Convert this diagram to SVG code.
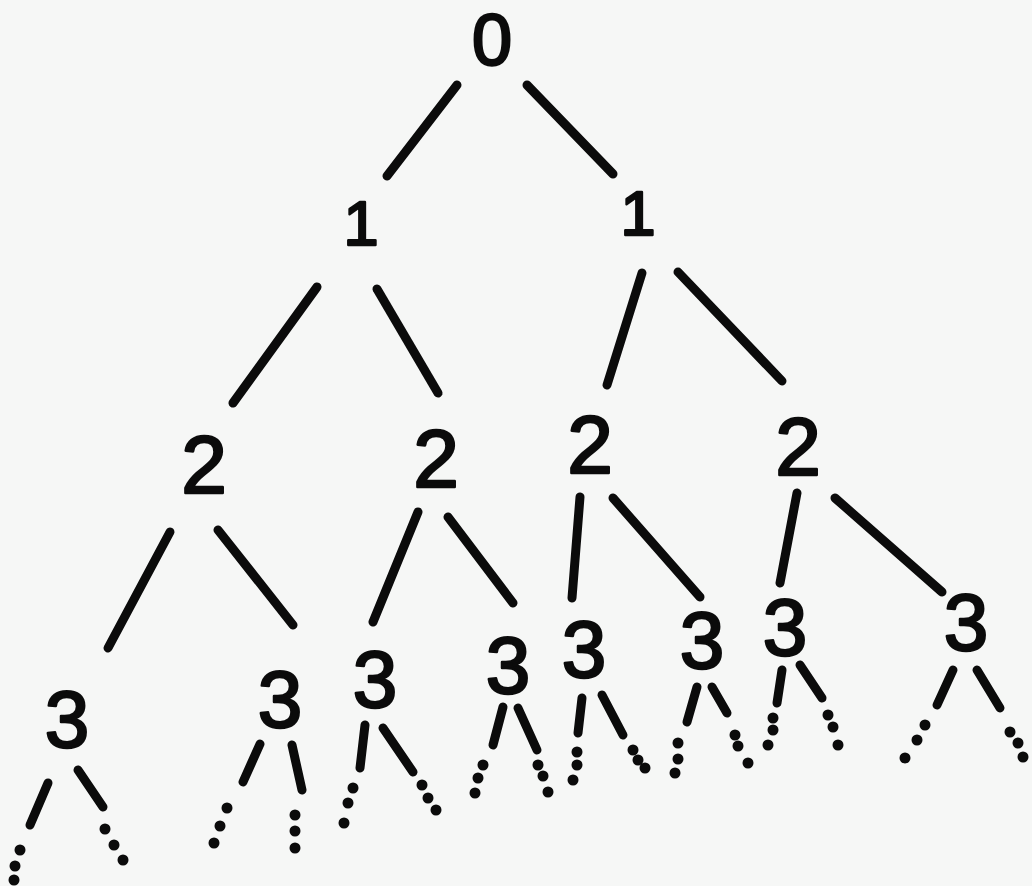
<svg xmlns="http://www.w3.org/2000/svg" width="1032" height="886" viewBox="0 0 1032 886">
<style>
.bg{fill:#f6f7f6}
.n text{font-family:"Liberation Sans",Arial,sans-serif;fill:#0b0b0b;stroke:#0b0b0b;stroke-width:2.5;stroke-linejoin:round;text-anchor:middle}
.l0{font-size:72px}
.l1{font-size:63px}
.l2{font-size:82px}
.l3{font-size:80px}
.e line{stroke:#0b0b0b;stroke-width:9;stroke-linecap:round;fill:none}
.d circle{fill:#0b0b0b}
</style>
<rect class="bg" width="1032" height="886"/>
<g id="connectors" class="e">
<line x1="457" y1="85" x2="387" y2="176"/>
<line x1="527" y1="85" x2="613" y2="174"/>
<line x1="317" y1="287" x2="233" y2="403"/>
<line x1="377" y1="289" x2="438" y2="393"/>
<line x1="642" y1="273" x2="607" y2="385"/>
<line x1="678" y1="272" x2="782" y2="381"/>
<line x1="170" y1="532" x2="108" y2="648"/>
<line x1="218" y1="530" x2="293" y2="625"/>
<line x1="418" y1="512" x2="373" y2="622"/>
<line x1="448" y1="517" x2="513" y2="603"/>
<line x1="580" y1="497" x2="572" y2="598"/>
<line x1="613" y1="498" x2="700" y2="597"/>
<line x1="797" y1="493" x2="780" y2="583"/>
<line x1="835" y1="498" x2="942" y2="592"/>
<line x1="48" y1="783" x2="30" y2="825"/>
<line x1="78" y1="770" x2="103" y2="807"/>
<line x1="260" y1="744" x2="243" y2="782"/>
<line x1="292" y1="745" x2="302" y2="790"/>
<line x1="365" y1="725" x2="360" y2="768"/>
<line x1="383" y1="728" x2="413" y2="772"/>
<line x1="503" y1="707" x2="493" y2="745"/>
<line x1="518" y1="708" x2="537" y2="750"/>
<line x1="582" y1="698" x2="578" y2="733"/>
<line x1="602" y1="695" x2="623" y2="735"/>
<line x1="697" y1="687" x2="687" y2="722"/>
<line x1="712" y1="687" x2="727" y2="713"/>
<line x1="782" y1="670" x2="777" y2="703"/>
<line x1="800" y1="665" x2="822" y2="698"/>
<line x1="953" y1="670" x2="937" y2="705"/>
<line x1="977" y1="670" x2="1000" y2="708"/>
<g class="d">
<circle cx="20" cy="850" r="5.5"/><circle cx="15" cy="866" r="5.5"/><circle cx="14" cy="880" r="5.5"/>
<circle cx="105" cy="829" r="5.5"/><circle cx="114" cy="845" r="5.5"/><circle cx="123" cy="860" r="5.5"/>
<circle cx="227" cy="808" r="5.5"/><circle cx="220" cy="826" r="5.5"/><circle cx="214" cy="843" r="5.5"/>
<circle cx="295" cy="815" r="5.5"/><circle cx="295" cy="831" r="5.5"/><circle cx="295" cy="848" r="5.5"/>
<circle cx="353" cy="788" r="5.5"/><circle cx="348" cy="803" r="5.5"/><circle cx="344" cy="823" r="5.5"/>
<circle cx="422" cy="785" r="5.5"/><circle cx="428" cy="798" r="5.5"/><circle cx="436" cy="810" r="5.5"/>
<circle cx="483" cy="765" r="5.5"/><circle cx="478" cy="778" r="5.5"/><circle cx="475" cy="793" r="5.5"/>
<circle cx="538" cy="765" r="5.5"/><circle cx="543" cy="776" r="5.5"/><circle cx="548" cy="792" r="5.5"/>
<circle cx="577" cy="752" r="5.5"/><circle cx="577" cy="765" r="5.5"/><circle cx="573" cy="780" r="5.5"/>
<circle cx="633" cy="750" r="5.5"/><circle cx="638" cy="760" r="5.5"/><circle cx="645" cy="768" r="5.5"/>
<circle cx="678" cy="743" r="5.5"/><circle cx="678" cy="759" r="5.5"/><circle cx="675" cy="773" r="5.5"/>
<circle cx="735" cy="735" r="5.5"/><circle cx="738" cy="746" r="5.5"/><circle cx="748" cy="763" r="5.5"/>
<circle cx="773" cy="718" r="5.5"/><circle cx="773" cy="730" r="5.5"/><circle cx="768" cy="745" r="5.5"/>
<circle cx="828" cy="715" r="5.5"/><circle cx="833" cy="727" r="5.5"/><circle cx="838" cy="745" r="5.5"/>
<circle cx="925" cy="725" r="5.5"/><circle cx="917" cy="740" r="5.5"/><circle cx="905" cy="758" r="5.5"/>
<circle cx="1010" cy="732" r="5.5"/><circle cx="1018" cy="743" r="5.5"/><circle cx="1023" cy="757" r="5.5"/>
</g>
</g>
<g id="n0" class="n"><text class="l0" x="492" y="65">0</text></g>
<g id="n1a" class="n"><text class="l1" x="361" y="245">1</text></g>
<g id="n1b" class="n"><text class="l1" x="638" y="235">1</text></g>
<g id="n2a" class="n"><text class="l2" x="204" y="493">2</text></g>
<g id="n2b" class="n"><text class="l2" x="436" y="487">2</text></g>
<g id="n2c" class="n"><text class="l2" x="590" y="473">2</text></g>
<g id="n2d" class="n"><text class="l2" x="798" y="475">2</text></g>
<g id="n3a" class="n"><text class="l3" x="67" y="747">3</text></g>
<g id="n3b" class="n"><text class="l3" x="280" y="727">3</text></g>
<g id="n3c" class="n"><text class="l3" x="375" y="707">3</text></g>
<g id="n3d" class="n"><text class="l3" x="508" y="693">3</text></g>
<g id="n3e" class="n"><text class="l3" x="584" y="677">3</text></g>
<g id="n3f" class="n"><text class="l3" x="702" y="668">3</text></g>
<g id="n3g" class="n"><text class="l3" x="785" y="655">3</text></g>
<g id="n3h" class="n"><text class="l3" x="966" y="650">3</text></g>
</svg>
